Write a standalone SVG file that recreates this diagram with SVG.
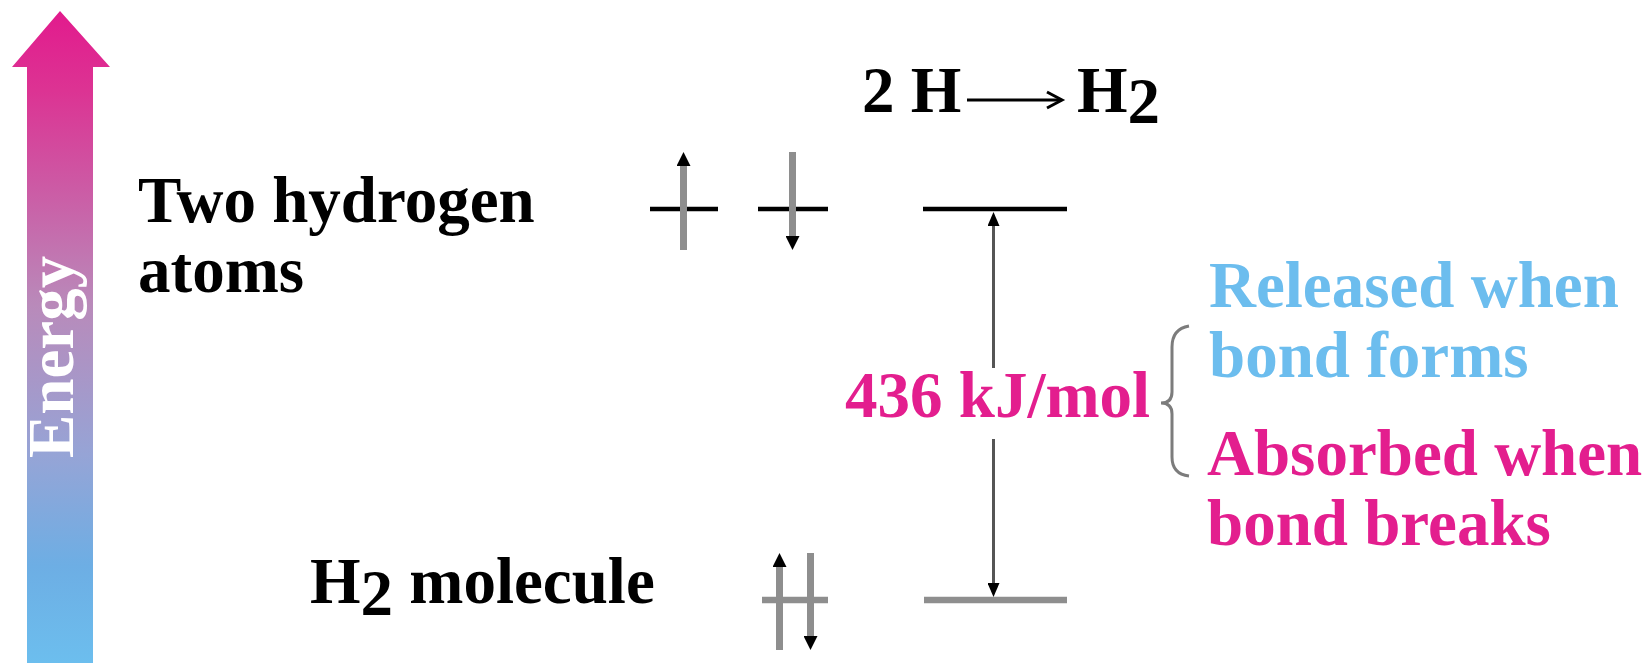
<svg xmlns="http://www.w3.org/2000/svg" width="1647" height="663" viewBox="0 0 1647 663">
  <style>
    .t { font-family: "Liberation Serif", "Times New Roman", serif; font-weight: bold; font-size: 65px; }
    .blk { fill: #000000; }
    .pink { fill: #E31E8E; }
    .blue { fill: #6CBDEE; }
    .lvl { stroke: #000000; stroke-width: 4.5; fill: none; }
    .lvlg { stroke: #8e8e8e; stroke-width: 6.5; fill: none; }
    .spin { stroke: #8e8e8e; stroke-width: 7; fill: none; }
    .dim { stroke: #555555; stroke-width: 3; fill: none; }
  </style>
  <defs>
    <linearGradient id="eg" x1="0" y1="12" x2="0" y2="663" gradientUnits="userSpaceOnUse">
      <stop offset="0" stop-color="#E21B8D"/>
      <stop offset="0.12" stop-color="#DC3393"/>
      <stop offset="0.45" stop-color="#B98ABA"/>
      <stop offset="0.68" stop-color="#96A4D6"/>
      <stop offset="0.85" stop-color="#6DAEE4"/>
      <stop offset="1" stop-color="#6CBEEE"/>
    </linearGradient>
    <marker id="spinHead" markerUnits="userSpaceOnUse" viewBox="0 0 14 14" refX="0" refY="7" markerWidth="14" markerHeight="14" orient="auto-start-reverse">
      <path d="M0,0 L14,7 L0,14 z" fill="#000000"/>
    </marker>
    <marker id="dimHead" markerUnits="userSpaceOnUse" viewBox="0 0 14 12" refX="0" refY="6" markerWidth="14" markerHeight="12" orient="auto-start-reverse">
      <path d="M0,0 L14,6 L0,12 z" fill="#000000"/>
    </marker>
  </defs>
  <rect width="1647" height="663" fill="#ffffff"/>

  <g id="energy-axis">
    <polygon points="27,663 27,67 12,67 60,11 110,67 93,67 93,663" fill="url(#eg)"/>
    <text class="t" transform="translate(73,458) rotate(-90)" font-size="62" fill="#ffffff">Energy</text>
  </g>

  <g id="reaction">
    <text class="t blk" x="862" y="112">2 H</text>
    <line x1="967" y1="100" x2="1060" y2="100" stroke="#000" stroke-width="3"/>
    <polyline points="1047,92 1062,100 1047,108" stroke="#000" stroke-width="3" fill="none"/>
    <text class="t blk" x="1077" y="112">H<tspan dy="11">2</tspan></text>
  </g>

  <g id="label-atoms">
    <text class="t blk" x="138" y="222">Two hydrogen</text>
    <text class="t blk" x="138" y="292">atoms</text>
  </g>

  <g id="label-molecule">
    <text class="t blk" x="310" y="603">H<tspan dy="12">2</tspan><tspan dy="-12"> molecule</tspan></text>
  </g>

  <g id="atoms-orbitals">
    <line class="lvl" x1="650" y1="209" x2="718" y2="209"/>
    <line class="lvl" x1="758" y1="209" x2="828" y2="209"/>
    <line class="spin" x1="683.5" y1="250" x2="683.5" y2="166" marker-end="url(#spinHead)"/>
    <line class="spin" x1="792.5" y1="152" x2="792.5" y2="236" marker-end="url(#spinHead)"/>
  </g>

  <g id="molecule-orbital">
    <line class="lvlg" x1="762" y1="600" x2="828" y2="600"/>
    <line class="spin" x1="779.5" y1="650" x2="779.5" y2="567" marker-end="url(#spinHead)"/>
    <line class="spin" x1="810.5" y1="553" x2="810.5" y2="636" marker-end="url(#spinHead)"/>
  </g>

  <g id="level-atoms">
    <line class="lvl" x1="923" y1="209" x2="1067" y2="209"/>
  </g>
  <g id="level-molecule">
    <line class="lvlg" x1="924" y1="600" x2="1067" y2="600"/>
  </g>

  <g id="label-energy-value">
    <text class="t pink" x="845" y="417">436 kJ/mol</text>
  </g>

  <g id="label-released">
    <text class="t blue" x="1209" y="307">Released when</text>
    <text class="t blue" x="1209" y="377">bond forms</text>
  </g>
  <g id="label-absorbed">
    <text class="t pink" x="1207" y="475">Absorbed when</text>
    <text class="t pink" x="1207" y="545">bond breaks</text>
  </g>

  <g id="connectors">
    <line class="dim" x1="993.5" y1="226" x2="993.5" y2="368" marker-start="url(#dimHead)"/>
    <line class="dim" x1="993.5" y1="439" x2="993.5" y2="583" marker-end="url(#dimHead)"/>
    <path d="M1189,326 Q1172,329 1172,347 L1172,392 Q1172,403 1161,403 Q1172,403 1172,414 L1172,457 Q1172,474 1189,476" stroke="#7c7c7c" stroke-width="3" fill="none"/>
  </g>
</svg>
